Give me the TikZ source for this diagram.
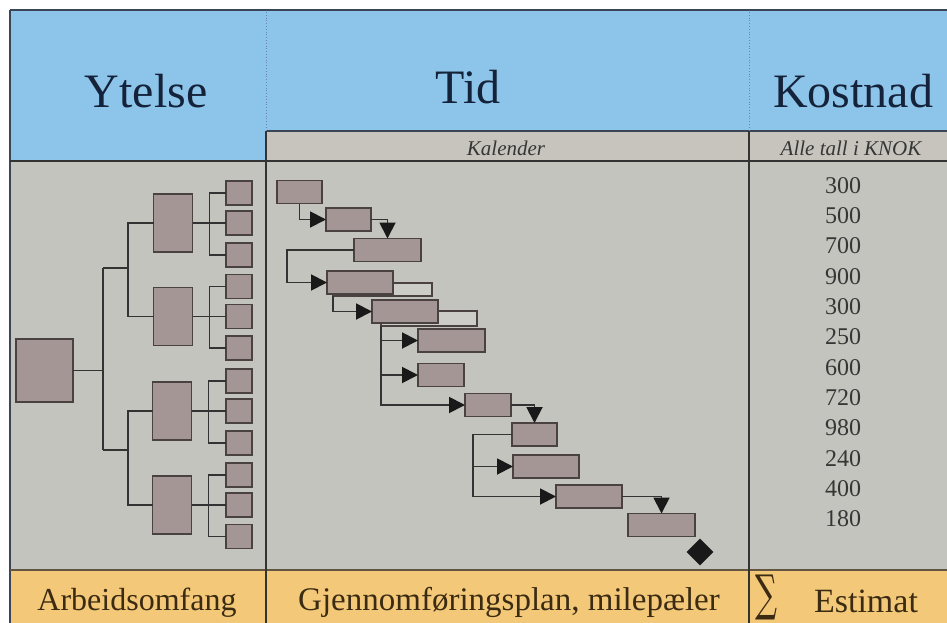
\documentclass[tikz,border=0pt]{standalone}
\usepackage{fontspec}
\setmainfont{Liberation Serif}
\newfontfamily\symbolfont{DejaVu Serif}
\usetikzlibrary{arrows.meta,shapes.geometric}

\definecolor{hdrblue}{HTML}{8DC4EA}
\definecolor{bodygray}{HTML}{C4C4BE}
\definecolor{subgray}{HTML}{C6C4BC}
\definecolor{boxfill}{HTML}{A39694}
\definecolor{boxline}{HTML}{4A4240}
\definecolor{floatfill}{HTML}{CDCDC7}
\definecolor{footorange}{HTML}{F3C878}
\definecolor{inkblue}{HTML}{14233A}
\definecolor{inkbrown}{HTML}{3B2B12}
\definecolor{inkgray}{HTML}{363636}
\definecolor{rulecol}{HTML}{333333}
\definecolor{framecol}{HTML}{3A4655}
\definecolor{dotcol}{HTML}{6A88A6}

\begin{document}
\begin{tikzpicture}[x=1pt,y=-1pt,
  box/.style={draw=boxline, fill=boxfill, line width=1.7pt, inner sep=0pt, outer sep=0pt},
  leaf/.style={box, minimum width=26pt, minimum height=24pt},
  mid/.style={box, minimum width=39pt, minimum height=58pt},
  task/.style={box, minimum height=23pt},
  floatbox/.style={draw=boxline, fill=floatfill, line width=1.5pt, inner sep=0pt, outer sep=0pt},
  link/.style={draw=rulecol, line width=1.9pt},
  arr/.style={link, -{Triangle[length=16pt,width=16pt,color=black!90]}},
  hdr/.style={font=\fontsize{48}{56}\selectfont, text=inkblue, inner sep=0pt, anchor=base},
  sub/.style={font=\itshape\fontsize{21}{24}\selectfont, text=inkgray, inner sep=0pt, anchor=base},
  num/.style={font=\fontsize{24}{28}\selectfont, text=inkgray, inner sep=0pt, anchor=base},
  foot/.style={font=\fontsize{33}{38}\selectfont, text=inkbrown, inner sep=0pt, anchor=base}]

\useasboundingbox (0,0) rectangle (947,623);
\fill[white] (0,0) rectangle (947,623);

% background bands
\fill[hdrblue] (10,10) rectangle (947,131);
\fill[hdrblue] (10,131) rectangle (266,161);
\fill[subgray] (266,131) rectangle (947,161);
\fill[bodygray] (10,161) rectangle (947,570);
\fill[footorange] (10,570) rectangle (947,623);

% frame and rules
\draw[framecol, line width=1.6pt] (10,10) -- (947,10);
\draw[framecol, line width=1.6pt] (10,10) -- (10,623);
\draw[framecol, line width=1.5pt] (266,131) -- (947,131);
\draw[rulecol, line width=1.6pt] (10,161) -- (947,161);
\draw[inkbrown!80, line width=1.6pt] (10,570) -- (947,570);
\draw[rulecol, line width=1.5pt] (266,131) -- (266,623);
\draw[rulecol, line width=1.5pt] (749,131) -- (749,623);
\draw[dotcol, line width=0.8pt, dotted] (266,12) -- (266,131);
\draw[dotcol, line width=0.8pt, dotted] (749,12) -- (749,131);

% column headings
\node[hdr] (hy) at (146,108) {Ytelse};
\node[hdr] (ht) at (468,104) {Tid};
\node[hdr] (hk) at (853,108) {Kostnad};
\node[sub] (sk) at (506,155) {Kalender};
\node[sub] (sa) at (851,155) {Alle tall i KNOK};

% work breakdown structure
\node[box, minimum width=57pt, minimum height=63pt] (root) at (44.5,370.5) {};
\node[mid] (pA) at (173,223) {};
\node[mid] (pB) at (173,316.5) {};
\node[mid] (pC) at (172,411) {};
\node[mid] (pD) at (172,505) {};
\foreach \n/\y in {1/193, 2/223, 3/255, 4/286.5, 5/316.5, 6/348,
                   7/381, 8/411, 9/443, 10/475, 11/505, 12/536.5}
  \node[leaf] (l\n) at (239,\y) {};

\coordinate (ja) at (103,268);
\coordinate (jb) at (103,450);
\coordinate (ka) at (128,268);
\coordinate (kb) at (128,450);
\draw[link] (root.east) -| (ja);
\draw[link] (root.east) -| (jb);
\draw[link] (ja) -- (ka);
\draw[link] (jb) -- (kb);
\draw[link] (ka) |- (pA.west);
\draw[link] (ka) |- (pB.west);
\draw[link] (kb) |- (pC.west);
\draw[link] (kb) |- (pD.west);
\foreach \p/\a/\b/\c in {pA/1/2/3, pB/4/5/6, pC/7/8/9, pD/10/11/12}
  \foreach \k in {\a,\b,\c}
    \draw[link] (\p.east) -- ++(17,0) |- (l\k.west);

% schedule: float bars behind, tasks on top
\node[floatbox, minimum width=99pt, minimum height=13pt] (f4) at (382.5,289.5) {};
\node[floatbox, minimum width=96pt, minimum height=15pt] (f5) at (429,318.5) {};
\foreach \n/\x/\y/\w in {1/299.5/192/45, 2/348.5/219.5/45, 3/387.5/250/67,
                         4/360/282.5/66, 5/405/311.5/66, 6/451.5/340.5/67,
                         7/441/375/46, 8/488/405/46, 9/534.5/434.5/45,
                         10/546/466.5/66, 11/589/496.5/66, 12/661.5/525/67}
  \node[task, minimum width=\w pt] (t\n) at (\x,\y) {};
\node[diamond, fill=black!90, inner sep=0pt, minimum width=27pt, minimum height=27pt] (ms) at (700,552) {};

\coordinate (k3) at (287,250);
\coordinate (k9) at (473,434.5);
\draw[arr] (t1.south) |- (t2.west);
\draw[arr] (t2.east) -| (t3.north);
\draw[arr] (t3.west) -- (k3) |- (t4.west);
\draw[arr] (f4.south west) |- (t5.west);
\foreach \k in {6,7,8}
  \draw[arr] (f5.south west) |- (t\k.west);
\draw[arr] (t8.east) -| (t9.north);
\foreach \k in {10,11}
  \draw[arr] (t9.west) -- (k9) |- (t\k.west);
\draw[arr] (t11.east) -| (t12.north);

% cost figures
\foreach \v [count=\i from 0] in {300,500,700,900,300,250,600,720,980,240,400,180}
  \node[num] (c\i) at (843,193+30.36*\i) {\v};

% footer row
\node[foot, font=\fontsize{32}{38}\selectfont] (fa) at (137,610) {Arbeidsomfang};
\node[foot] (fg) at (509,610) {Gjennomføringsplan, milepæler};
\node[inner sep=0pt, text=inkbrown] (fs) at (766,597) {\resizebox*{22pt}{45pt}{\symbolfont ∑}};
\node[foot, font=\fontsize{34}{38}\selectfont] (fe) at (866,612) {Estimat};
\end{tikzpicture}
\end{document}
